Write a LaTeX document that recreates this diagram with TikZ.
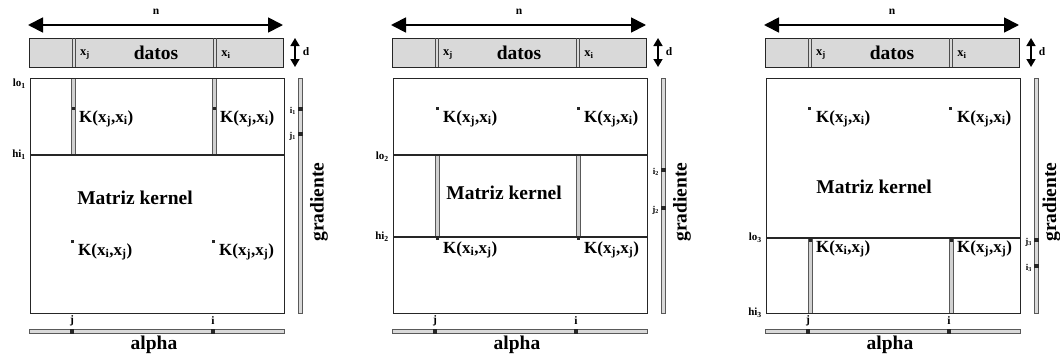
\documentclass[tikz,border=0pt]{standalone}
\usepackage{fontspec}
\setmainfont{Liberation Serif}
\usetikzlibrary{arrows.meta}
\newcommand\Kxy[2]{K(x\textsubscript{#1},x\textsubscript{#2})}
\tikzset{
  frame/.style={draw=black!85, line width=1.3pt},
  datosbox/.style={draw=black!85, line width=1.2pt, fill=black!15, inner sep=0pt},
  strip/.style={draw=black!65, fill=black!18, line width=0.5pt},
  thinline/.style={draw=black!70, line width=0.5pt},
  bar/.style={draw=black!65, fill=black!15, line width=0.6pt, inner sep=0pt},
  sq/.style={fill=black!85, draw=none, minimum width=3pt, minimum height=3pt, inner sep=0pt},
  barsq/.style={fill=black!85, draw=none, minimum width=5pt, minimum height=4pt, inner sep=0pt},
  hsq/.style={fill=black!85, draw=none, minimum width=3.5pt, minimum height=5pt, inner sep=0pt},
  bigtxt/.style={font=\fontsize{19.5}{22}\selectfont\bfseries, inner sep=0pt},
  ktxt/.style={font=\fontsize{17}{20}\selectfont\bfseries, inner sep=0pt, anchor=west},
  xtxt/.style={font=\fontsize{12.5}{15}\selectfont\bfseries, inner sep=0pt},
  smtxt/.style={font=\fontsize{11.5}{14}\selectfont\bfseries, inner sep=0pt},
  lbl/.style={font=\fontsize{11}{13}\selectfont\bfseries, inner sep=0pt, anchor=east},
  tinytxt/.style={font=\fontsize{9}{11}\selectfont\bfseries, inner sep=0pt, anchor=east},
  bigarrow/.style={draw=black, line width=1.8pt, {Triangle[length=15pt,width=15pt]}-{Triangle[length=15pt,width=15pt]}},
  darrow/.style={draw=black, line width=1.6pt, {Triangle[length=8pt,width=9pt]}-{Triangle[length=8pt,width=9pt]}},
}
% common part of one panel; #1 = suffix, #2 = x of the rotated label
\newcommand\commonpanel[2]{%
  \coordinate (nL#1) at (-1,25);
  \coordinate (nR#1) at (254,25);
  \draw[bigarrow] (nL#1) -- (nR#1);
  \node[smtxt] (n#1) at (127,12) {n};
  \node[datosbox, anchor=north west, minimum width=254pt, minimum height=29pt] (D#1) at (0,38) {};
  \draw[thinline] (43,38) -- (43,67) (46.5,38) -- (46.5,67);
  \draw[thinline] (184,38) -- (184,67) (187.5,38) -- (187.5,67);
  \node[xtxt] (xj#1) at (56,55) {x\textsubscript{j}};
  \node[bigtxt] (datos#1) at (127,53) {datos};
  \node[xtxt] (xi#1) at (197,55) {x\textsubscript{i}};
  \coordinate (dT#1) at (266,38);
  \coordinate (dB#1) at (266,67);
  \draw[darrow] (dT#1) -- (dB#1);
  \node[smtxt] (d#1) at (277,52) {d};
  \node[frame, anchor=north west, minimum width=254pt, minimum height=235pt, inner sep=0pt] (M#1) at (1,78) {};
  \node[bar, anchor=west, minimum width=255pt, minimum height=4pt] (A#1) at (0,331) {};
  \node[hsq] (Aj#1) at (43,331) {};
  \node[hsq] (Ai#1) at (184,331) {};
  \node[smtxt] (jl#1) at (43,321) {j};
  \node[smtxt] (il#1) at (184,321) {i};
  \node[bigtxt] (alpha#1) at (125,345) {alpha};
  \node[bar, anchor=north, minimum width=4.5pt, minimum height=235pt] (G#1) at (271.5,78) {};
  \node[bigtxt, rotate=90] (grad#1) at (#2,202) {gradiente};
}
\begin{document}
\begin{tikzpicture}[x=1pt, y=-1pt]
\useasboundingbox (0,0) rectangle (1060,359);

% ---------------- panel 1 ----------------
\begin{scope}[shift={(29,0)}]
  \draw[strip] (42.5,78) rectangle (46.5,155);
  \draw[strip] (183.5,78) rectangle (187.5,155);
  \commonpanel{a}{290}
  \draw[frame] (1,155) -- (255,155);
  \node[lbl] (lo1) at (-3,84) {lo\textsubscript{1}};
  \node[lbl] (hi1) at (-3,155) {hi\textsubscript{1}};
  \node[sq] (s1a) at (44.5,108) {};
  \node[sq] (s1b) at (185.5,108) {};
  \node[ktxt] (k1a) at (50,119) {\Kxy{j}{i}};
  \node[ktxt] (k1b) at (191,119) {\Kxy{j}{i}};
  \node[bigtxt] (mk1) at (106,198) {Matriz kernel};
  \node[sq] (s1c) at (43,241) {};
  \node[sq] (s1d) at (184,241) {};
  \node[ktxt] (k1c) at (49,252) {\Kxy{i}{j}};
  \node[ktxt] (k1d) at (190,252) {\Kxy{j}{j}};
  \node[barsq] (gi1) at (271.5,109) {};
  \node[barsq] (gj1) at (271.5,134) {};
  \node[tinytxt] (gil1) at (267,111) {i\textsubscript{1}};
  \node[tinytxt] (gjl1) at (267,136) {j\textsubscript{1}};
\end{scope}

% ---------------- panel 2 ----------------
\begin{scope}[shift={(392,0)}]
  \draw[strip] (43,155) rectangle (47,237);
  \draw[strip] (184,155) rectangle (188,237);
  \commonpanel{b}{290}
  \draw[frame] (1,155) -- (255,155);
  \draw[frame] (1,237) -- (255,237);
  \node[lbl] (lo2) at (-3,157) {lo\textsubscript{2}};
  \node[lbl] (hi2) at (-3,237) {hi\textsubscript{2}};
  \node[sq] (s2a) at (45,108) {};
  \node[sq] (s2b) at (186,108) {};
  \node[ktxt] (k2a) at (51,119) {\Kxy{j}{i}};
  \node[ktxt] (k2b) at (192,119) {\Kxy{j}{i}};
  \node[bigtxt] (mk2) at (112,193) {Matriz kernel};
  \node[sq] (s2c) at (45,238.5) {};
  \node[sq] (s2d) at (186,238.5) {};
  \node[ktxt] (k2c) at (51,250) {\Kxy{i}{j}};
  \node[ktxt] (k2d) at (192,250) {\Kxy{j}{j}};
  \node[barsq] (gi2) at (271.5,170) {};
  \node[barsq] (gj2) at (271.5,208) {};
  \node[tinytxt] (gil2) at (267,172) {i\textsubscript{2}};
  \node[tinytxt] (gjl2) at (267,210) {j\textsubscript{2}};
\end{scope}

% ---------------- panel 3 ----------------
\begin{scope}[shift={(765,0)}]
  \draw[strip] (43,238) rectangle (47,313);
  \draw[strip] (184,238) rectangle (188,313);
  \commonpanel{c}{286.5}
  \draw[frame] (1,238) -- (255,238);
  \node[lbl] (lo3) at (-3,238) {lo\textsubscript{3}};
  \node[lbl] (hi3) at (-3,313) {hi\textsubscript{3}};
  \node[sq] (s3a) at (44,108) {};
  \node[sq] (s3b) at (185,108) {};
  \node[ktxt] (k3a) at (51,119) {\Kxy{j}{i}};
  \node[ktxt] (k3b) at (192,119) {\Kxy{j}{i}};
  \node[bigtxt] (mk3) at (109,187) {Matriz kernel};
  \node[sq] (s3c) at (45,240.5) {};
  \node[sq] (s3d) at (186,240.5) {};
  \node[ktxt] (k3c) at (51,249) {\Kxy{i}{j}};
  \node[ktxt] (k3d) at (192,249) {\Kxy{j}{j}};
  \node[barsq] (gj3) at (271.5,240) {};
  \node[barsq] (gi3) at (271.5,266) {};
  \node[tinytxt] (gjl3) at (267,242) {j\textsubscript{3}};
  \node[tinytxt] (gil3) at (267,268) {i\textsubscript{3}};
\end{scope}
\end{tikzpicture}
\end{document}
